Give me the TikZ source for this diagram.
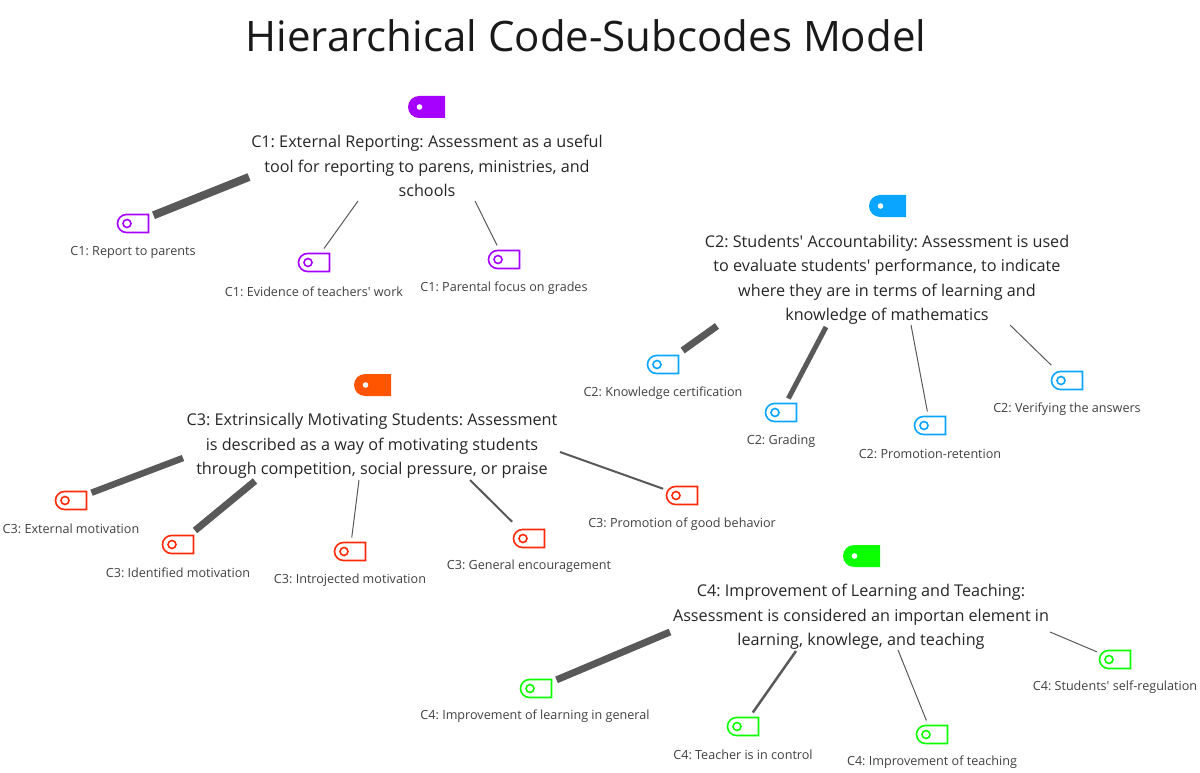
\documentclass[tikz,border=0pt]{standalone}
\usepackage{fontspec}
\setmainfont{Open Sans}
\usetikzlibrary{shapes.misc}

\definecolor{cpurple}{HTML}{A600FF}
\definecolor{cblue}{HTML}{0AA5FF}
\definecolor{corange}{HTML}{FF5500}
\definecolor{cred}{HTML}{FF2A0A}
\definecolor{cgreen}{HTML}{0CFF00}
\definecolor{cedge}{HTML}{595959}

\frenchspacing

\tikzset{
  tagbase/.style={rounded rectangle, rounded rectangle east arc=none, inner sep=0pt},
  codetag/.style={tagbase, fill=#1, minimum width=37pt, minimum height=22pt,
    path picture={\fill[white] ([xshift=-7pt]path picture bounding box.center) circle (2.8pt);}},
  subtag/.style={tagbase, draw=#1, line width=1.6pt, minimum width=31pt, minimum height=18pt, outer sep=5pt,
    path picture={\draw[#1, line width=1.6pt] ([xshift=-6pt]path picture bounding box.center) circle (4pt);}},
  codetext/.style={align=center, font=\fontsize{16.2}{24.5}\selectfont, color=black!85},
  subtext/.style={font=\fontsize{12.6}{15}\selectfont, color=black!75},
  edge/.style={draw=cedge, line width=#1}
}

\begin{document}
\begin{tikzpicture}[x=1pt, y=-1pt]
  \useasboundingbox (0,0) rectangle (1200,773);

  %% ---- title ----
  \node[font=\fontsize{42}{50}\selectfont, color=black!90] (title) at (586,36) {Hierarchical Code-Subcodes Model};

  %% ---- C1 ----
  \node[codetag=cpurple] (c1) at (426.5,107) {};
  \node[codetext] (c1text) at (427,166) {C1: External Reporting: Assessment as a useful\\tool for reporting to parens, ministries, and\\schools};
  \node[subtag=cpurple] (c1a) at (133,223.5) {};
  \node[subtag=cpurple] (c1b) at (314,262.5) {};
  \node[subtag=cpurple] (c1c) at (504,259.5) {};
  \node[subtext] (c1alabel) at (133,252.5) {C1: Report to parents};
  \node[subtext] (c1blabel) at (314,291.5) {C1: Evidence of teachers\textquotesingle{} work};
  \node[subtext] (c1clabel) at (504,288) {C1: Parental focus on grades};
  \coordinate (c1ae) at (249,177);
  \coordinate (c1be) at (358,201);
  \coordinate (c1ce) at (475,201);
  \draw[edge=8pt] (c1ae) -- (c1a);
  \draw[edge=1pt] (c1be) -- (c1b);
  \draw[edge=1pt] (c1ce) -- (c1c);

  %% ---- C2 ----
  \node[codetag=cblue] (c2) at (887.5,206) {};
  \node[codetext] (c2text) at (887,280) {C2: Students\textquotesingle{} Accountability: Assessment is used\\to evaluate students\textquotesingle{} performance, to indicate\\where they are in terms of learning and\\knowledge of mathematics};
  \node[subtag=cblue] (c2a) at (663,364.5) {};
  \node[subtag=cblue] (c2b) at (781,412.5) {};
  \node[subtag=cblue] (c2c) at (930,425.5) {};
  \node[subtag=cblue] (c2d) at (1067,380.5) {};
  \node[subtext] (c2alabel) at (663,393) {C2: Knowledge certification};
  \node[subtext] (c2blabel) at (781,441) {C2: Grading};
  \node[subtext] (c2clabel) at (930,454) {C2: Promotion-retention};
  \node[subtext] (c2dlabel) at (1067,409) {C2: Verifying the answers};
  \coordinate (c2ae) at (717,326);
  \coordinate (c2be) at (826,327);
  \coordinate (c2ce) at (911,325);
  \coordinate (c2de) at (1010,325);
  \draw[edge=7pt] (c2ae) -- (c2a);
  \draw[edge=5pt] (c2be) -- (c2b);
  \draw[edge=1pt] (c2ce) -- (c2c);
  \draw[edge=1pt, shorten >=4pt] (c2de) -- (c2d);

  %% ---- C3 ----
  \node[codetag=corange] (c3) at (372.5,385) {};
  \node[codetext] (c3text) at (372,446) {C3: Extrinsically Motivating Students: Assessment\\is described as a way of motivating students\\through competition, social pressure, or praise};
  \node[subtag=cred] (c3a) at (71,500.5) {};
  \node[subtag=cred] (c3b) at (178,544.5) {};
  \node[subtag=cred] (c3c) at (350,551.5) {};
  \node[subtag=cred] (c3d) at (529,538.5) {};
  \node[subtag=cred] (c3e) at (682,495.5) {};
  \node[subtext] (c3alabel) at (71,529) {C3: External motivation};
  \node[subtext] (c3blabel) at (178,573) {C3: Identified motivation};
  \node[subtext] (c3clabel) at (350,580) {C3: Introjected motivation};
  \node[subtext] (c3dlabel) at (529,566.5) {C3: General encouragement};
  \node[subtext] (c3elabel) at (682,524) {C3: Promotion of good behavior};
  \coordinate (c3ae) at (183,458);
  \coordinate (c3be) at (255,481);
  \coordinate (c3ce) at (359,480);
  \coordinate (c3de) at (470,480);
  \coordinate (c3ee) at (560,452);
  \draw[edge=6.5pt] (c3ae) -- (c3a);
  \draw[edge=7pt] (c3be) -- (c3b);
  \draw[edge=1pt] (c3ce) -- (c3c);
  \draw[edge=2pt, shorten >=6pt] (c3de) -- (c3d);
  \draw[edge=2pt] (c3ee) -- (c3e);

  %% ---- C4 ----
  \node[codetag=cgreen] (c4) at (861.5,556) {};
  \node[codetext] (c4text) at (861,617) {C4: Improvement of Learning and Teaching:\\Assessment is considered an importan element in\\learning, knowlege, and teaching};
  \node[subtag=cgreen] (c4a) at (536,688.5) {};
  \node[subtag=cgreen] (c4b) at (743,726.5) {};
  \node[subtag=cgreen] (c4c) at (932,734.5) {};
  \node[subtag=cgreen] (c4d) at (1115,659.5) {};
  \node[subtext] (c4alabel) at (535,716.5) {C4: Improvement of learning in general};
  \node[subtext] (c4blabel) at (743,754.5) {C4: Teacher is in control};
  \node[subtext] (c4clabel) at (932,762.5) {C4: Improvement of teaching};
  \node[subtext] (c4dlabel) at (1115,687.5) {C4: Students\textquotesingle{} self-regulation};
  \coordinate (c4ae) at (670,632);
  \coordinate (c4be) at (796,651);
  \coordinate (c4ce) at (898,650);
  \coordinate (c4de) at (1050,632);
  \draw[edge=7pt] (c4ae) -- (c4a);
  \draw[edge=2.5pt] (c4be) -- (c4b);
  \draw[edge=1pt] (c4ce) -- (c4c);
  \draw[edge=1pt] (c4de) -- (c4d);
\end{tikzpicture}
\end{document}
